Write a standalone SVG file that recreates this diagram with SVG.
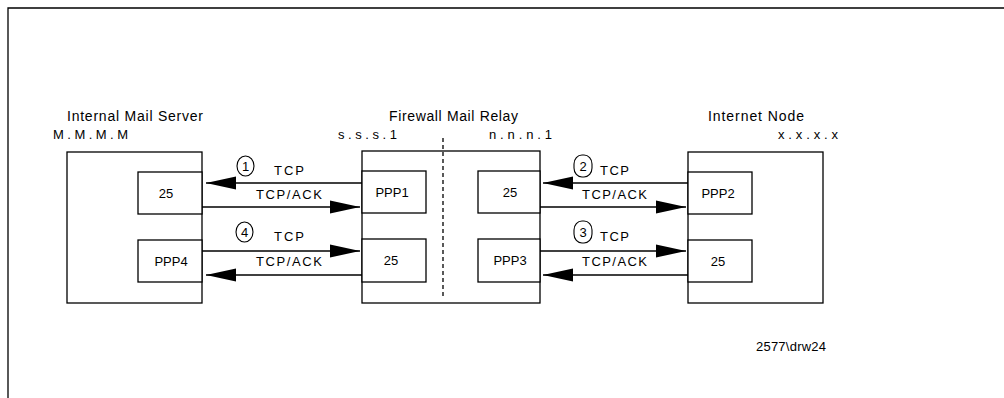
<svg xmlns="http://www.w3.org/2000/svg" width="1004" height="398" viewBox="0 0 1004 398">
<style>
.box{fill:#fff;stroke:#000;stroke-width:1.3}
.ln{stroke:#000;stroke-width:1.3;fill:none}
.t{font-family:"Liberation Sans",Arial,sans-serif;font-size:13px;fill:#000}
.h{font-family:"Liberation Sans",Arial,sans-serif;font-size:14px;fill:#000}
.c{fill:#fff;stroke:#000;stroke-width:1.1}
.n{font-family:"Liberation Sans",Arial,sans-serif;font-size:13px;fill:#000;text-anchor:middle}
.m{text-anchor:middle}
</style>
<defs>
<marker id="ah" markerWidth="30" markerHeight="14" refX="30" refY="7" orient="auto" markerUnits="userSpaceOnUse">
<path d="M0,0.5 L30,7 L0,13.5 z" fill="#000"/>
</marker>
</defs>
<rect width="1004" height="398" fill="#fff"/>
<g id="frame">
<path class="ln" d="M8,398 L8,8 L1004,8" stroke-width="1.6"/>
</g>
<g id="internal-mail-server">
<text class="h" x="67" y="121" textLength="136" lengthAdjust="spacing">Internal Mail Server</text>
<text class="t" x="53" y="139" textLength="75" lengthAdjust="spacing" font-size="12">M.M.M.M</text>
<rect class="box" x="67" y="152" width="135" height="151"/>
<rect class="box" x="138" y="172" width="64" height="42"/>
<text class="t m" x="166" y="198">25</text>
<rect class="box" x="138" y="240" width="64" height="42"/>
<text class="t m" x="171" y="266">PPP4</text>
</g>
<g id="firewall-mail-relay">
<text class="h" x="389" y="121" textLength="129" lengthAdjust="spacing">Firewall Mail Relay</text>
<text class="t" x="338" y="139" textLength="59" lengthAdjust="spacing" font-size="12">s.s.s.1</text>
<text class="t" x="489" y="139" textLength="63" lengthAdjust="spacing" font-size="12">n.n.n.1</text>
<rect class="box" x="362" y="151" width="178" height="152"/>
<rect class="box" x="362" y="171" width="64" height="42"/>
<text class="t m" x="392" y="197">PPP1</text>
<rect class="box" x="362" y="239" width="64" height="43"/>
<text class="t m" x="391" y="265">25</text>
<rect class="box" x="478" y="171" width="62" height="42"/>
<text class="t m" x="510" y="197">25</text>
<rect class="box" x="478" y="239" width="62" height="43"/>
<text class="t m" x="510" y="265">PPP3</text>
<line class="ln" x1="443" y1="138" x2="443" y2="297" stroke-dasharray="4,3"/>
</g>
<g id="internet-node">
<text class="h" x="708" y="121" textLength="96" lengthAdjust="spacing">Internet Node</text>
<text class="t" x="778" y="139" textLength="60" lengthAdjust="spacing" font-size="12">x.x.x.x</text>
<rect class="box" x="688" y="152" width="135" height="151"/>
<rect class="box" x="688" y="172" width="64" height="42"/>
<text class="t m" x="718" y="198">PPP2</text>
<rect class="box" x="688" y="240" width="64" height="42"/>
<text class="t m" x="718" y="266">25</text>
</g>
<g id="connectors">
<line class="ln" x1="362" y1="183" x2="206" y2="183" marker-end="url(#ah)"/>
<line class="ln" x1="202" y1="207" x2="360" y2="207" marker-end="url(#ah)"/>
<line class="ln" x1="202" y1="251" x2="360" y2="251" marker-end="url(#ah)"/>
<line class="ln" x1="362" y1="275" x2="206" y2="275" marker-end="url(#ah)"/>
<line class="ln" x1="688" y1="183" x2="543" y2="183" marker-end="url(#ah)"/>
<line class="ln" x1="540" y1="207" x2="686" y2="207" marker-end="url(#ah)"/>
<line class="ln" x1="540" y1="251" x2="686" y2="251" marker-end="url(#ah)"/>
<line class="ln" x1="688" y1="275" x2="543" y2="275" marker-end="url(#ah)"/>
</g>
<g id="labels">
<ellipse class="c" cx="245.5" cy="166" rx="8.5" ry="10"/>
<text class="n" x="245.5" y="171">1</text>
<text class="t" x="274" y="175" textLength="30" lengthAdjust="spacing">TCP</text>
<text class="t" x="256" y="199" textLength="66" lengthAdjust="spacing">TCP/ACK</text>
<ellipse class="c" cx="244.5" cy="232" rx="8.5" ry="10"/>
<text class="n" x="244.5" y="237">4</text>
<text class="t" x="274" y="241" textLength="30" lengthAdjust="spacing">TCP</text>
<text class="t" x="256" y="266" textLength="66" lengthAdjust="spacing">TCP/ACK</text>
<rect class="c" x="574" y="155" width="18" height="22" rx="8" ry="9"/>
<text class="n" x="583" y="171">2</text>
<text class="t" x="600" y="175" textLength="29" lengthAdjust="spacing">TCP</text>
<text class="t" x="582" y="199" textLength="65" lengthAdjust="spacing">TCP/ACK</text>
<rect class="c" x="574" y="221" width="18" height="22" rx="8" ry="9"/>
<text class="n" x="583" y="237">3</text>
<text class="t" x="600" y="241" textLength="29" lengthAdjust="spacing">TCP</text>
<text class="t" x="582" y="266" textLength="65" lengthAdjust="spacing">TCP/ACK</text>
<text class="t" x="756" y="351" textLength="70" lengthAdjust="spacing" font-size="12">2577\drw24</text>
</g>
</svg>
